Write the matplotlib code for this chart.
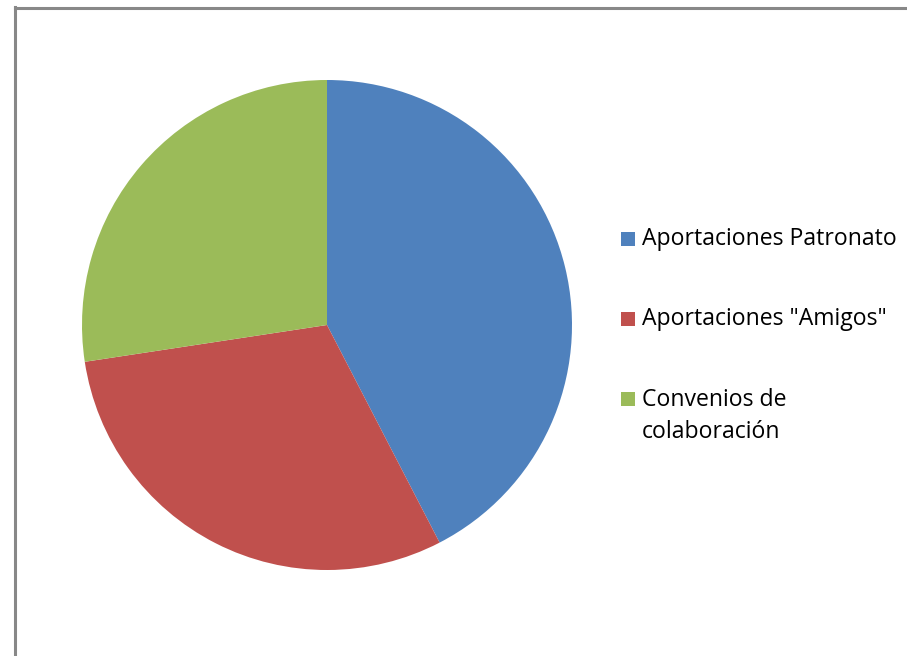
import matplotlib.pyplot as plt
from matplotlib.patches import Rectangle

# data (share of total, %)
labels = ['Aportaciones Patronato', 'Aportaciones "Amigos"', 'Convenios de\ncolaboración']
values = [42.4, 30.2, 27.4]
colors = ['#4F81BD', '#C0504D', '#9BBB59']

W, H = 907, 656
fig = plt.figure(figsize=(W / 100, H / 100), dpi=100)

# gray frame, only top and left edges visible
fig.add_artist(plt.Line2D([15 / W, 15 / W], [0, 1 - 7 / H], color='#888888', lw=2.2))
fig.add_artist(plt.Line2D([15 / W, 1], [1 - 7.5 / H, 1 - 7.5 / H], color='#888888', lw=2.2))

# pie: center (327, 325) px, radius 245 px
cx, cy, r = 327, 325, 245
ax = fig.add_axes([(cx - r) / W, (H - cy - r) / H, 2 * r / W, 2 * r / H])
wedges, _ = ax.pie(values, colors=colors, startangle=90, counterclock=False,
                   radius=1, wedgeprops=dict(linewidth=0))
ax.set_xlim(-1, 1)
ax.set_ylim(-1, 1)
ax.set_aspect('equal')
ax.axis('off')

# legend, laid out by hand (pixel positions from the reference)
row0, step, line_h = 239, 80, 34
for i, (lab, col) in enumerate(zip(labels, colors)):
    yc = row0 + step * i
    fig.add_artist(Rectangle((621 / W, 1 - (yc + 7) / H), 14 / W, 14 / H,
                             facecolor=col, edgecolor='none', transform=fig.transFigure))
    nl = lab.count('\n')
    fig.text(642 / W, 1 - (yc + nl * line_h / 2) / H, lab, ha='left', va='center',
             family='Open Sans', fontsize=16.6, color='black', linespacing=1.45)

fig.savefig('out.png', dpi=100)
